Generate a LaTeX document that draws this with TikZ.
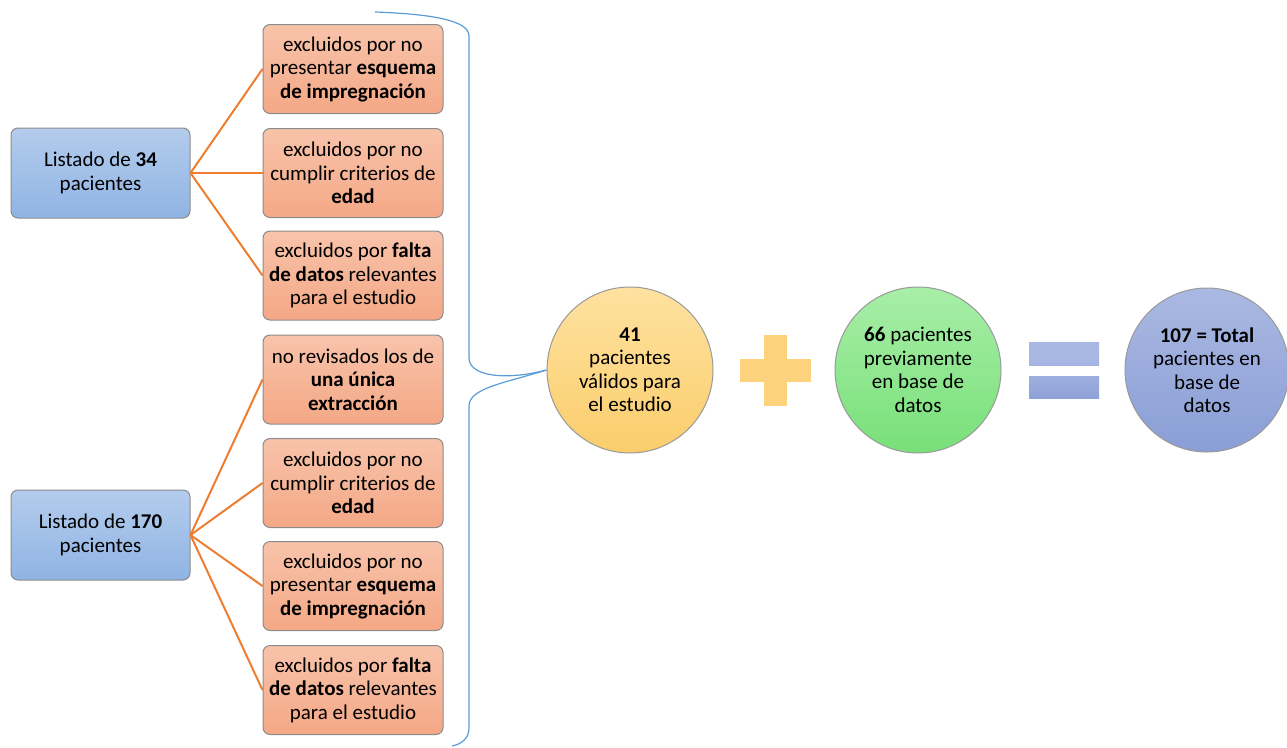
\documentclass[tikz,border=0pt]{standalone}
\usepackage{fontspec}
\setmainfont{Carlito}
\definecolor{lbtop}{HTML}{B4CCED}
\definecolor{lbbot}{HTML}{8FB4E3}
\definecolor{obtop}{HTML}{F8C3AA}
\definecolor{obbot}{HTML}{F4A886}
\definecolor{orcol}{HTML}{ED7D31}
\definecolor{brcol}{HTML}{5B9BD5}
\definecolor{yltop}{HTML}{FEE2A0}
\definecolor{ylbot}{HTML}{FBCD6C}
\definecolor{grtop}{HTML}{A8EEA8}
\definecolor{grbot}{HTML}{78E078}
\definecolor{bltop}{HTML}{AAB9E2}
\definecolor{blbot}{HTML}{8A9ED6}
\definecolor{pluscol}{HTML}{FDD27C}
\definecolor{eqtop}{HTML}{A9B8E3}
\definecolor{eqbot}{HTML}{8EA1D8}
\begin{document}
\begin{tikzpicture}[x=1pt,y=-1pt,
  txt/.style={align=center, font=\fontsize{21}{23.5}\selectfont},
  lbox/.style={txt, rounded corners=7pt, draw=black!45, line width=1pt,
    top color=lbtop, bottom color=lbbot, minimum width=179pt, minimum height=90pt,
    inner sep=0pt},
  obox/.style={txt, rounded corners=7pt, draw=black!45, line width=1pt,
    top color=obtop, bottom color=obbot, minimum width=180pt, minimum height=89pt,
    inner sep=0pt},
  conn/.style={draw=orcol, line width=2pt},
  brace/.style={draw=brcol, line width=1.2pt},
  circ/.style={txt, circle, draw=black!40, line width=1pt, inner sep=0pt, minimum size=166pt},
]
\useasboundingbox (0,0) rectangle (1287,747);

% left boxes
\node[lbox] (L1) at (100.5,173) {Listado de \textbf{34}\\pacientes};
\node[lbox] (L2) at (100.5,535) {Listado de \textbf{170}\\pacientes};

% orange boxes
\node[obox] (O1) at (353,69) {excluidos por no\\presentar \textbf{esquema}\\\textbf{de impregnación}};
\node[obox] (O2) at (353,173) {excluidos por no\\cumplir criterios de\\\textbf{edad}};
\node[obox] (O3) at (353,275.5) {excluidos por \textbf{falta}\\\textbf{de datos} relevantes\\para el estudio};
\node[obox] (O4) at (353,379.5) {no revisados los de\\\textbf{una única}\\\textbf{extracción}};
\node[obox] (O5) at (353,483) {excluidos por no\\cumplir criterios de\\\textbf{edad}};
\node[obox] (O6) at (353,586) {excluidos por no\\presentar \textbf{esquema}\\\textbf{de impregnación}};
\node[obox] (O7) at (353,690) {excluidos por \textbf{falta}\\\textbf{de datos} relevantes\\para el estudio};

% connectors
\foreach \o in {O1,O2,O3} \draw[conn] (L1.east) -- (\o.west);
\foreach \o in {O4,O5,O6,O7} \draw[conn] (L2.east) -- (\o.west);

% circles
\node[circ, top color=yltop, bottom color=ylbot] (C1) at (630,370)
  {\textbf{41}\\pacientes\\válidos para\\el estudio};
\node[circ, top color=grtop, bottom color=grbot] (C2) at (918,370)
  {\textbf{66} pacientes\\previamente\\en base de\\datos};
\node[circ, top color=bltop, bottom color=blbot, minimum size=164pt] (C3) at (1207,370)
  {\textbf{107 = Total}\\pacientes en\\base de\\datos};

% brace
\coordinate (btop) at (375,12);
\coordinate (bbot) at (452,746);
\draw[brace] (btop) .. controls (430,14) and (469,20) .. (469,36) -- (469,358)
  .. controls (469,376) and (505,381) .. (C1.west);
\draw[brace] (C1.west) .. controls (505,383) and (469,388) .. (469,406) -- (469,728)
  .. controls (469,738) and (462,744) .. (bbot);

% plus sign
\fill[pluscol] (764,335) rectangle (787,406);
\fill[pluscol] (740,359) rectangle (811,382);

% equals sign
\shade[top color=eqtop, bottom color=eqtop!90!eqbot] (1029,342) rectangle (1099,365);
\shade[top color=eqtop!60!eqbot, bottom color=eqbot] (1029,376) rectangle (1099,398);
\end{tikzpicture}
\end{document}
